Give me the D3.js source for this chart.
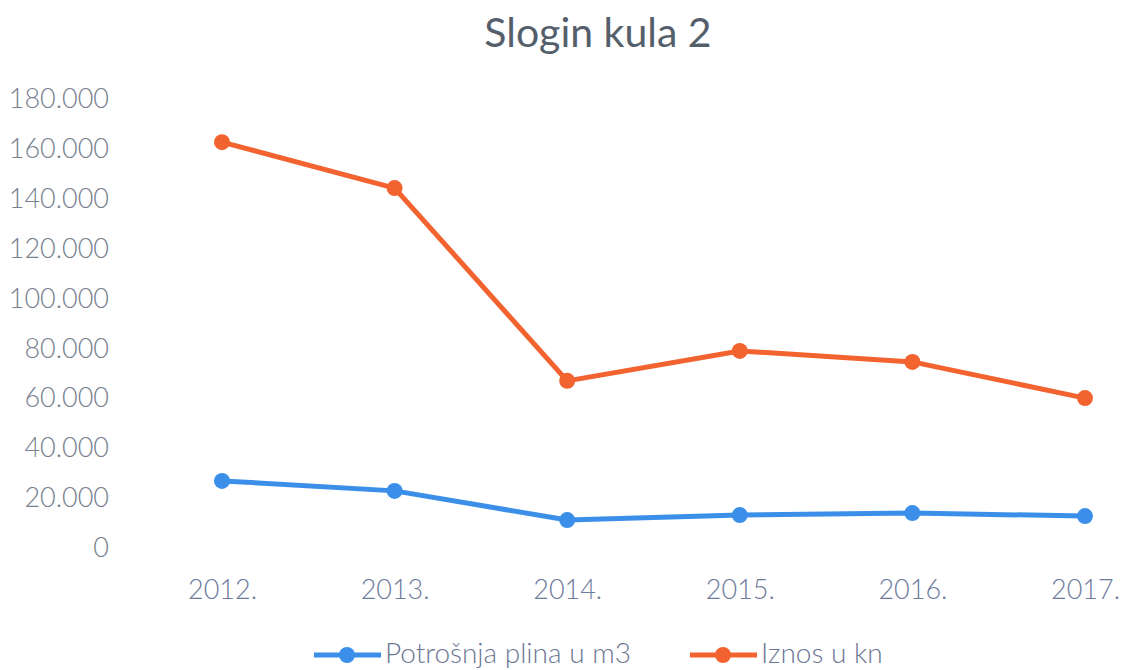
<!DOCTYPE html>
<html>
<head>
<meta charset="utf-8">
<script src="https://cdn.jsdelivr.net/npm/d3@7"></script>
<style>
    body { margin: 0; background: #fff; }
    text { font-family: Lato, "Open Sans", sans-serif; }
</style>
</head>
<body>
<svg id="drawing_region"></svg>
<script>
const years = ["2012.", "2013.", "2014.", "2015.", "2016.", "2017."];
const plin = [26900, 22900, 11200, 13200, 14000, 12800];
const iznos = [162700, 144300, 67000, 79000, 74600, 60100];
const yTicks = [0, 20000, 40000, 60000, 80000, 100000, 120000, 140000, 160000, 180000];
const seriesNames = ["Potrošnja plina u m3", "Iznos u kn"];
const colors = ["#3b8fe9", "#f2632f"];

const config = {
    width: 1124,
    height: 670,
    margin: {top: 99, right: 39, bottom: 122, left: 136}
};

const svg = d3.select('#drawing_region')
    .attr('width', config.width)
    .attr('height', config.height);

const inner_width = config.width - config.margin.left - config.margin.right;
const inner_height = config.height - config.margin.top - config.margin.bottom;

const chart = svg.append('g')
    .attr('transform', `translate(${config.margin.left}, ${config.margin.top})`);

// Title
svg.append('text')
    .attr('x', 598)
    .attr('y', 47)
    .attr('text-anchor', 'middle')
    .attr('fill', '#555f6b')
    .style('font-size', '41px')
    .text('Slogin kula 2');

const xscale = d3.scalePoint()
    .domain(years)
    .range([86, inner_width])
    .padding(0);

const yscale = d3.scaleLinear()
    .domain([0, 180000])
    .range([inner_height, 0]);

const fmt = v => v === 0 ? '0' : d3.format(',')(v).replace(/,/g, '.');

const yaxis = d3.axisLeft(yscale)
    .tickValues(yTicks)
    .tickFormat(fmt)
    .tickSize(0)
    .tickPadding(27);

const xaxis = d3.axisBottom(xscale)
    .tickSize(0)
    .tickPadding(32);

const yg = chart.append('g').call(yaxis);
const xg = chart.append('g')
    .attr('transform', `translate(0, ${inner_height})`)
    .call(xaxis);

yg.select('.domain').remove();
xg.select('.domain').remove();
yg.selectAll('text')
    .attr('fill', '#77818f')
    .style('font-size', '27px')
    .style('font-weight', 300);
xg.selectAll('text')
    .attr('fill', '#6e7b9c')
    .style('font-size', '27px')
    .style('font-weight', 300);

const series = [plin, iznos];
const line = d3.line()
    .x((d, i) => xscale(years[i]))
    .y(d => yscale(d));

series.forEach((s, k) => {
    chart.append('path')
        .datum(s)
        .attr('fill', 'none')
        .attr('stroke', colors[k])
        .attr('stroke-width', 5)
        .attr('stroke-linejoin', 'round')
        .attr('d', line);

    chart.selectAll(`.pt${k}`)
        .data(s)
        .enter()
        .append('circle')
        .attr('class', `pt${k}`)
        .attr('cx', (d, i) => xscale(years[i]))
        .attr('cy', d => yscale(d))
        .attr('r', 8)
        .attr('fill', colors[k]);
});

// Legend (sits at the very bottom edge, as in the original)
const legendX = [314, 690];
const legend = svg.append('g').attr('transform', 'translate(0, 655)');
seriesNames.forEach((name, k) => {
    const g = legend.append('g').attr('transform', `translate(${legendX[k]}, 0)`);
    g.append('line')
        .attr('x1', 0).attr('x2', 67)
        .attr('stroke', colors[k])
        .attr('stroke-width', 5);
    g.append('circle')
        .attr('cx', 33)
        .attr('r', 8)
        .attr('fill', colors[k]);
    g.append('text')
        .attr('x', 71)
        .attr('y', 8)
        .attr('fill', '#6c7794')
        .style('font-size', '28px')
        .style('font-weight', 300)
        .text(name);
});
</script>
</body>
</html>
